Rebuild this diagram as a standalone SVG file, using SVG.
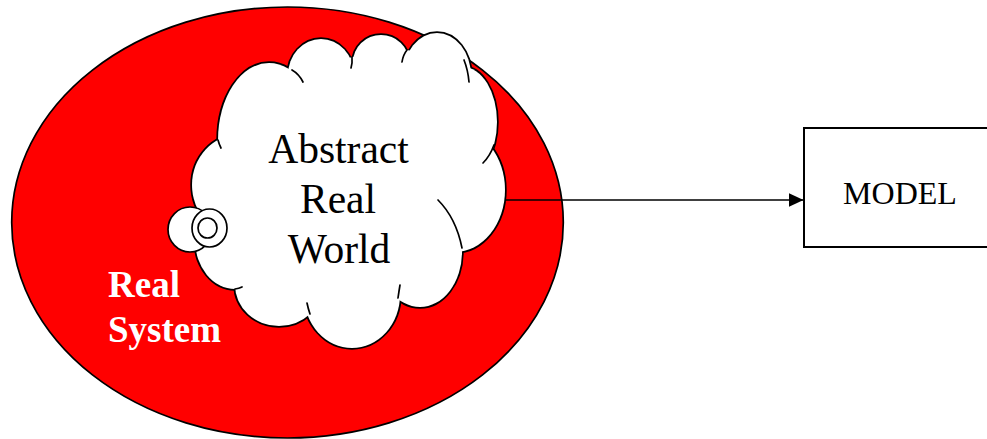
<svg xmlns="http://www.w3.org/2000/svg" width="987" height="439" viewBox="0 0 987 439">
<style>
.bump-stroke{fill:none;stroke:#000;stroke-width:3.4}
.bump-fill{fill:#fff;stroke:none}
.inner{fill:none;stroke:#000;stroke-width:1.7;stroke-linecap:round}
.tail{fill:#fff;stroke:#000;stroke-width:1.7}
.serif{font-family:"Liberation Serif","Times New Roman",serif}
</style>
<defs>
<marker id="arrow" markerWidth="15" markerHeight="14" refX="15" refY="7" orient="auto" markerUnits="userSpaceOnUse">
<path d="M0,0 L15,7 L0,14 Z" fill="#000"/>
</marker>
<g id="bumps">
<ellipse cx="269" cy="140" rx="51" ry="77"/>
<ellipse cx="321" cy="75" rx="33" ry="36"/>
<ellipse cx="381" cy="62" rx="28" ry="27"/>
<ellipse cx="437" cy="76" rx="34" ry="43"/>
<ellipse cx="463" cy="122" rx="34" ry="55"/>
<ellipse cx="455" cy="190" rx="50" ry="62"/>
<ellipse cx="420" cy="252" rx="42" ry="55"/>
<ellipse cx="352" cy="295" rx="48" ry="53"/>
<ellipse cx="279" cy="285" rx="44" ry="41"/>
<ellipse cx="235" cy="240" rx="40" ry="49"/>
<ellipse cx="238" cy="185" rx="46" ry="50"/>
</g>
</defs>
<g id="real-system">
<ellipse cx="287.5" cy="222.5" rx="275.8" ry="215.5" fill="#ff0000" stroke="#000" stroke-width="1.7"/>
<text class="serif" x="108" y="297" font-size="37" font-weight="bold" fill="#fff">Real</text>
<text class="serif" x="108" y="341.5" font-size="37" font-weight="bold" fill="#fff">System</text>
</g>
<g id="connectors">
<line x1="503" y1="200" x2="803.5" y2="200" stroke="#000" stroke-width="1.5" marker-end="url(#arrow)"/>
</g>
<g id="abstract-real-world">
<use href="#bumps" class="bump-stroke"/>
<use href="#bumps" class="bump-fill"/>
<polygon class="bump-fill" points="218,140 292,70 353,57 407,50 466,62 494,145 463,250 398,298 310,314 235,289 200,250"/>
<path class="inner" d="M292,70 Q299,74 303,82"/>
<path class="inner" d="M352,57 Q352.5,63 351,68"/>
<path class="inner" d="M407,50 Q403,55 402,62"/>
<path class="inner" d="M464,60 Q468,70 469,82"/>
<path class="inner" d="M494,145 Q490,156 483,163"/>
<path class="inner" d="M438,200 Q456,218 462,248"/>
<path class="inner" d="M398,298 Q399,291 400,285"/>
<path class="inner" d="M310,314 Q308,308 307,303"/>
<path class="inner" d="M235,289 Q239,288.5 242,287"/>
<path class="inner" d="M218,140 Q219,144 221,148"/>
<ellipse class="tail" cx="190" cy="229.5" rx="22" ry="22.5"/>
<ellipse class="tail" cx="209.5" cy="228" rx="17.5" ry="19"/>
<ellipse class="tail" cx="207.5" cy="228" rx="9.5" ry="10"/>
<text class="serif" x="338.5" y="163" font-size="41.5" text-anchor="middle" fill="#000">Abstract</text>
<text class="serif" x="338" y="213" font-size="41.5" text-anchor="middle" fill="#000">Real</text>
<text class="serif" x="339" y="263" font-size="41.5" text-anchor="middle" fill="#000">World</text>
</g>
<g id="model">
<rect x="804" y="128" width="200" height="119" fill="#fff" stroke="#000" stroke-width="2"/>
<text class="serif" x="900" y="204" font-size="32" text-anchor="middle" fill="#000">MODEL</text>
</g>
</svg>
